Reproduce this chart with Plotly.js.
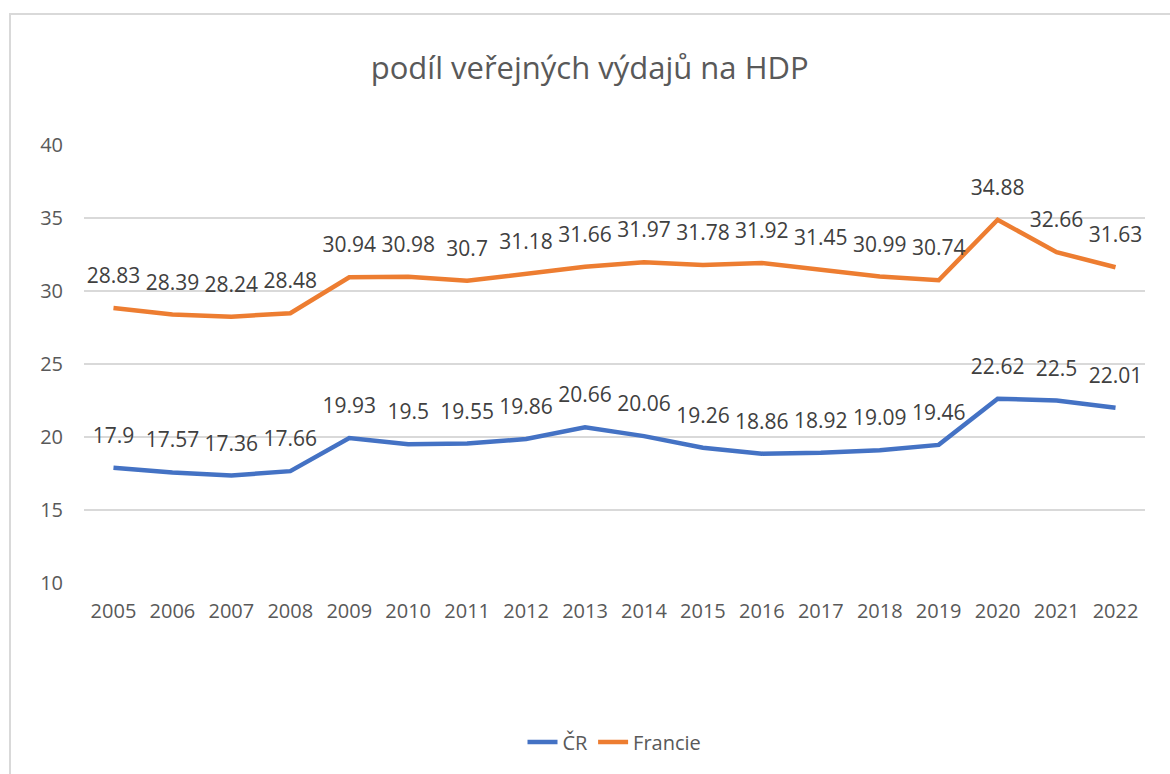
<!DOCTYPE html>
<html>
<head>
<meta charset="utf-8">
<script src="https://cdn.plot.ly/plotly-3.0.1.min.js"></script>
<style>
  html, body { margin: 0; padding: 0; background: #ffffff; }
  #wrap { position: relative; width: 1170px; height: 774px; overflow: hidden; }
  #chart { position: absolute; left: 0; top: 0; width: 1170px; height: 774px; }
  #frame { position: absolute; left: 9px; top: 13px; width: 1300px; height: 900px;
           border-left: 2px solid #d9d9d9; border-top: 2px solid #d9d9d9; pointer-events: none; }
</style>
</head>
<body>
<div id="wrap">
  <div id="chart"></div>
  <div id="frame"></div>
</div>
<script>
const years = ["2005","2006","2007","2008","2009","2010","2011","2012","2013","2014","2015","2016","2017","2018","2019","2020","2021","2022"];
const cr = [17.9, 17.57, 17.36, 17.66, 19.93, 19.5, 19.55, 19.86, 20.66, 20.06, 19.26, 18.86, 18.92, 19.09, 19.46, 22.62, 22.5, 22.01];
const francie = [28.83, 28.39, 28.24, 28.48, 30.94, 30.98, 30.7, 31.18, 31.66, 31.97, 31.78, 31.92, 31.45, 30.99, 30.74, 34.88, 32.66, 31.63];
const seriesNames = ["ČR", "Francie"];
const seriesColors = ['#4472C4', '#ED7D31'];
const yTicks = [10, 15, 20, 25, 30, 35, 40];

const fontFamily = '"Open Sans", "DejaVu Sans", sans-serif';

function makeTrace(name, values, color) {
  return {
    type: 'scatter',
    mode: 'lines+markers+text',
    name: name,
    x: years,
    y: values,
    text: values.map(v => String(v)),
    textposition: 'top center',
    textfont: { family: fontFamily, size: 21, color: '#404040' },
    line: { color: color, width: 4.5 },
    marker: { size: 30, color: color, opacity: 0 },
    cliponaxis: false,
    showlegend: false,
    hoverinfo: 'skip'
  };
}

function legendTrace(name, color) {
  return {
    type: 'scatter',
    mode: 'lines',
    name: name,
    x: [null],
    y: [null],
    line: { color: color, width: 4.5 },
    showlegend: true,
    hoverinfo: 'skip'
  };
}

const data = [
  makeTrace(seriesNames[0], cr, seriesColors[0]),
  makeTrace(seriesNames[1], francie, seriesColors[1]),
  legendTrace(seriesNames[0], seriesColors[0]),
  legendTrace(seriesNames[1], seriesColors[1])
];

const layout = {
  width: 1170,
  height: 774,
  paper_bgcolor: '#ffffff',
  plot_bgcolor: '#ffffff',
  margin: { l: 84, r: 25, t: 145, b: 191 },
  title: {
    text: 'podíl veřejných výdajů na HDP',
    font: { family: fontFamily, size: 31, color: '#595959' },
    x: 0.504, xanchor: 'center',
    y: 0.912, yanchor: 'middle', yref: 'container'
  },
  xaxis: {
    type: 'category',
    categoryarray: years,
    range: [-0.5, years.length - 0.5],
    tickfont: { family: fontFamily, size: 20, color: '#595959' },
    showgrid: false,
    showline: false,
    zeroline: false,
    ticks: '',
    ticklabelstandoff: 14,
    fixedrange: true
  },
  yaxis: {
    range: [10, 40],
    tickvals: yTicks,
    ticktext: yTicks.map(String),
    tickfont: { family: fontFamily, size: 20, color: '#595959' },
    showgrid: true,
    gridcolor: '#d9d9d9',
    gridwidth: 1.5,
    zeroline: false,
    showline: false,
    ticks: '',
    ticklabelstandoff: 20,
    fixedrange: true
  },
  showlegend: true,
  legend: {
    orientation: 'h',
    x: 0.5, xanchor: 'center',
    y: -0.363, yanchor: 'middle',
    font: { family: fontFamily, size: 20, color: '#595959' },
    traceorder: 'normal'
  },
  hovermode: false
};

Plotly.newPlot('chart', data, layout, { displayModeBar: false, staticPlot: true });
</script>
</body>
</html>
